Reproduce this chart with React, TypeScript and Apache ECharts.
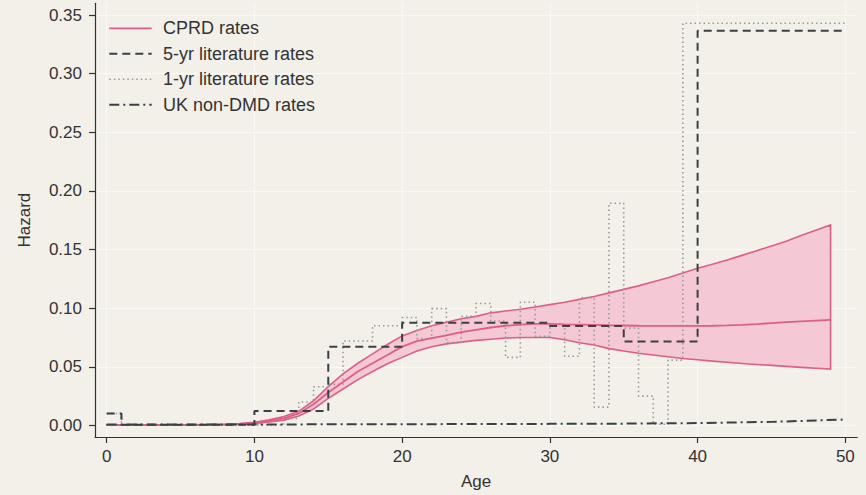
import React, { useEffect, useRef } from "react";
import * as echarts from "echarts";

// ---- data ----
const ages = [0,1,2,3,4,5,6,7,8,9,10,11,12,13,14,15,16,17,18,19,20,21,22,23,24,25,26,27,28,29,30,31,32,33,34,35,36,37,38,39,40,41,42,43,44,45,46,47,48,49];
const cprdRate = [0.0003,0.0003,0.0003,0.0003,0.0004,0.0004,0.0005,0.0006,0.0008,0.0012,0.0022,0.0038,0.006,0.0102,0.018,0.028,0.037,0.046,0.053,0.06,0.0672,0.0718,0.0745,0.0768,0.0795,0.0815,0.0835,0.085,0.086,0.0865,0.0865,0.0862,0.086,0.0857,0.0854,0.0852,0.085,0.0849,0.0848,0.0848,0.0848,0.085,0.0853,0.0858,0.0864,0.0872,0.088,0.0887,0.0894,0.09];
const cprdUpper = [0.0004,0.0004,0.0004,0.0004,0.0005,0.0005,0.0006,0.0008,0.001,0.0016,0.0027,0.0048,0.0075,0.012,0.021,0.033,0.044,0.053,0.061,0.069,0.0763,0.081,0.085,0.088,0.091,0.093,0.096,0.0975,0.099,0.101,0.103,0.105,0.1075,0.11,0.113,0.116,0.119,0.1225,0.126,0.13,0.134,0.1375,0.141,0.145,0.149,0.153,0.157,0.162,0.1665,0.171];
const cprdLower = [0.0002,0.0002,0.0002,0.0002,0.0003,0.0003,0.0004,0.0005,0.0006,0.0009,0.0017,0.003,0.0045,0.008,0.014,0.023,0.031,0.039,0.046,0.0525,0.058,0.0635,0.067,0.0695,0.071,0.0725,0.0735,0.0745,0.075,0.075,0.0749,0.073,0.0705,0.0685,0.0655,0.0634,0.0615,0.06,0.0585,0.057,0.056,0.0548,0.0538,0.0528,0.052,0.0512,0.0503,0.0495,0.0488,0.048];

const fiveYrStarts = [0,1,10,15,20,30,35,40];
const fiveYrRates = [0.0102,0.0005,0.0122,0.067,0.0875,0.0848,0.0715,0.3366];
const fiveYrEnd = 50;

const oneYrStarts = [0,1,12,13,14,15,16,17,18,19,20,21,22,23,24,25,26,27,28,29,30,31,32,33,34,35,36,37,38,39];
const oneYrRates = [0.0102,0.0004,0.006,0.02,0.033,0.035,0.072,0.072,0.085,0.085,0.092,0.074,0.0996,0.0706,0.093,0.104,0.089,0.058,0.105,0.076,0.086,0.059,0.109,0.0156,0.1895,0.083,0.025,0.001,0.0557,0.343];
const oneYrEnd = 50;

const ukAges = [0,10,20,30,35,40,45,50];
const ukRates = [0.0008,0.0008,0.001,0.0013,0.0015,0.002,0.003,0.005];

const xTicks = [0,10,20,30,40,50];
const yTicks = [0,0.05,0.1,0.15,0.2,0.25,0.3,0.35];

const legendLabels = ["CPRD rates", "5-yr literature rates", "1-yr literature rates", "UK non-DMD rates"];

const FONT = "'Liberation Sans', Arial, sans-serif";
const PINK = "#dd5f86";
const BAND = "#f5c8d5";
const DARK = "#3a4047";
const DOT = "#9a9a9a";
const TEXT = "#333333";
const GRID = "#f9f8f3";

const legendStyles: any[] = [
  { stroke: PINK, lineWidth: 1.8 },
  { stroke: DARK, lineWidth: 2, lineDash: [8, 5] },
  { stroke: DOT, lineWidth: 1.6, lineDash: [1.5, 3] },
  { stroke: DARK, lineWidth: 2, lineDash: [10, 4, 2, 4] },
];

function steps(starts: number[], vals: number[], end: number): number[][] {
  const out: number[][] = [];
  for (let i = 0; i < starts.length; i++) {
    const x1 = i + 1 < starts.length ? starts[i + 1] : end;
    out.push([starts[i], vals[i]]);
    out.push([x1, vals[i]]);
  }
  return out;
}

export default function App() {
  const ref = useRef<HTMLDivElement>(null);
  useEffect(() => {
    if (!ref.current) return;
    const chart = echarts.init(ref.current, undefined, { renderer: "svg" });

    const legendGraphics: any[] = [];
    legendLabels.forEach((lab, i) => {
      const y = 28.3 + 25.5 * i;
      legendGraphics.push({
        type: "line",
        z: 100,
        shape: { x1: 109.3, y1: y, x2: 151.7, y2: y },
        style: { ...legendStyles[i], fill: null },
        silent: true,
      });
      legendGraphics.push({
        type: "text",
        z: 100,
        x: 163,
        y: y,
        style: { text: lab, fontSize: 18, fontFamily: FONT, fill: TEXT, verticalAlign: "middle", align: "left" },
        silent: true,
      });
    });

    const option: any = {
      animation: false,
      backgroundColor: "#f2f0e9",
      textStyle: { fontFamily: FONT },
      grid: { left: 95, right: 8.7, top: 3.3, bottom: 57.7, containLabel: false },
      graphic: legendGraphics,
      xAxis: {
        type: "value",
        min: -0.79,
        max: 50.81,
        name: "Age",
        nameLocation: "middle",
        nameGap: 36,
        nameTextStyle: { fontSize: 17, color: TEXT, fontFamily: FONT },
        axisLine: { show: true, onZero: false, lineStyle: { color: TEXT, width: 1.2 } },
        axisTick: { show: true, length: 6, customValues: xTicks, lineStyle: { color: TEXT, width: 1.2 } },
        axisLabel: { customValues: xTicks, fontSize: 17, color: TEXT, margin: 11, fontFamily: FONT, formatter: (v: number) => String(Math.round(v)) },
        splitLine: { show: true, lineStyle: { color: GRID, width: 1 } },
      },
      yAxis: {
        type: "value",
        min: -0.0099,
        max: 0.36,
        name: "Hazard",
        nameLocation: "middle",
        nameGap: 62,
        nameTextStyle: { fontSize: 17, color: TEXT, fontFamily: FONT },
        axisLine: { show: true, onZero: false, lineStyle: { color: TEXT, width: 1.2 } },
        axisTick: { show: true, length: 6, customValues: yTicks, lineStyle: { color: TEXT, width: 1.2 } },
        axisLabel: { customValues: yTicks, fontSize: 17, color: TEXT, margin: 13, fontFamily: FONT, formatter: (v: number) => v.toFixed(2) },
        splitLine: { show: true, lineStyle: { color: GRID, width: 1 } },
      },
      series: [
        {
          name: "ciBand",
          type: "custom",
          silent: true,
          data: [0],
          clip: true,
          renderItem: (params: any, api: any) => {
            const pts: number[][] = [];
            for (let i = 0; i < ages.length; i++) pts.push(api.coord([ages[i], cprdUpper[i]]));
            for (let i = ages.length - 1; i >= 0; i--) pts.push(api.coord([ages[i], cprdLower[i]]));
            return {
              type: "polygon",
              shape: { points: pts },
              style: { fill: BAND, stroke: PINK, lineWidth: 1.6 },
            };
          },
        },
        {
          name: "1-yr literature rates", type: "line", symbol: "none", silent: true,
          data: steps(oneYrStarts, oneYrRates, oneYrEnd),
          lineStyle: { color: DOT, width: 1.6, type: [1.5, 3] },
        },
        {
          name: "CPRD rates", type: "line", symbol: "none", silent: true,
          data: ages.map((a, i) => [a, cprdRate[i]]),
          lineStyle: { color: PINK, width: 1.8 },
        },
        {
          name: "5-yr literature rates", type: "line", symbol: "none", silent: true,
          data: steps(fiveYrStarts, fiveYrRates, fiveYrEnd),
          lineStyle: { color: DARK, width: 2, type: [8, 5] },
        },
        {
          name: "UK non-DMD rates", type: "line", symbol: "none", silent: true,
          data: ukAges.map((a, i) => [a, ukRates[i]]),
          lineStyle: { color: DARK, width: 2, type: [10, 4, 2, 4] },
        },
      ],
    };
    chart.setOption(option);
    return () => chart.dispose();
  }, []);
  return (
    <div
      ref={ref}
      style={{ position: "fixed", left: 0, top: 0, width: 866, height: 495 }}
    />
  );
}
